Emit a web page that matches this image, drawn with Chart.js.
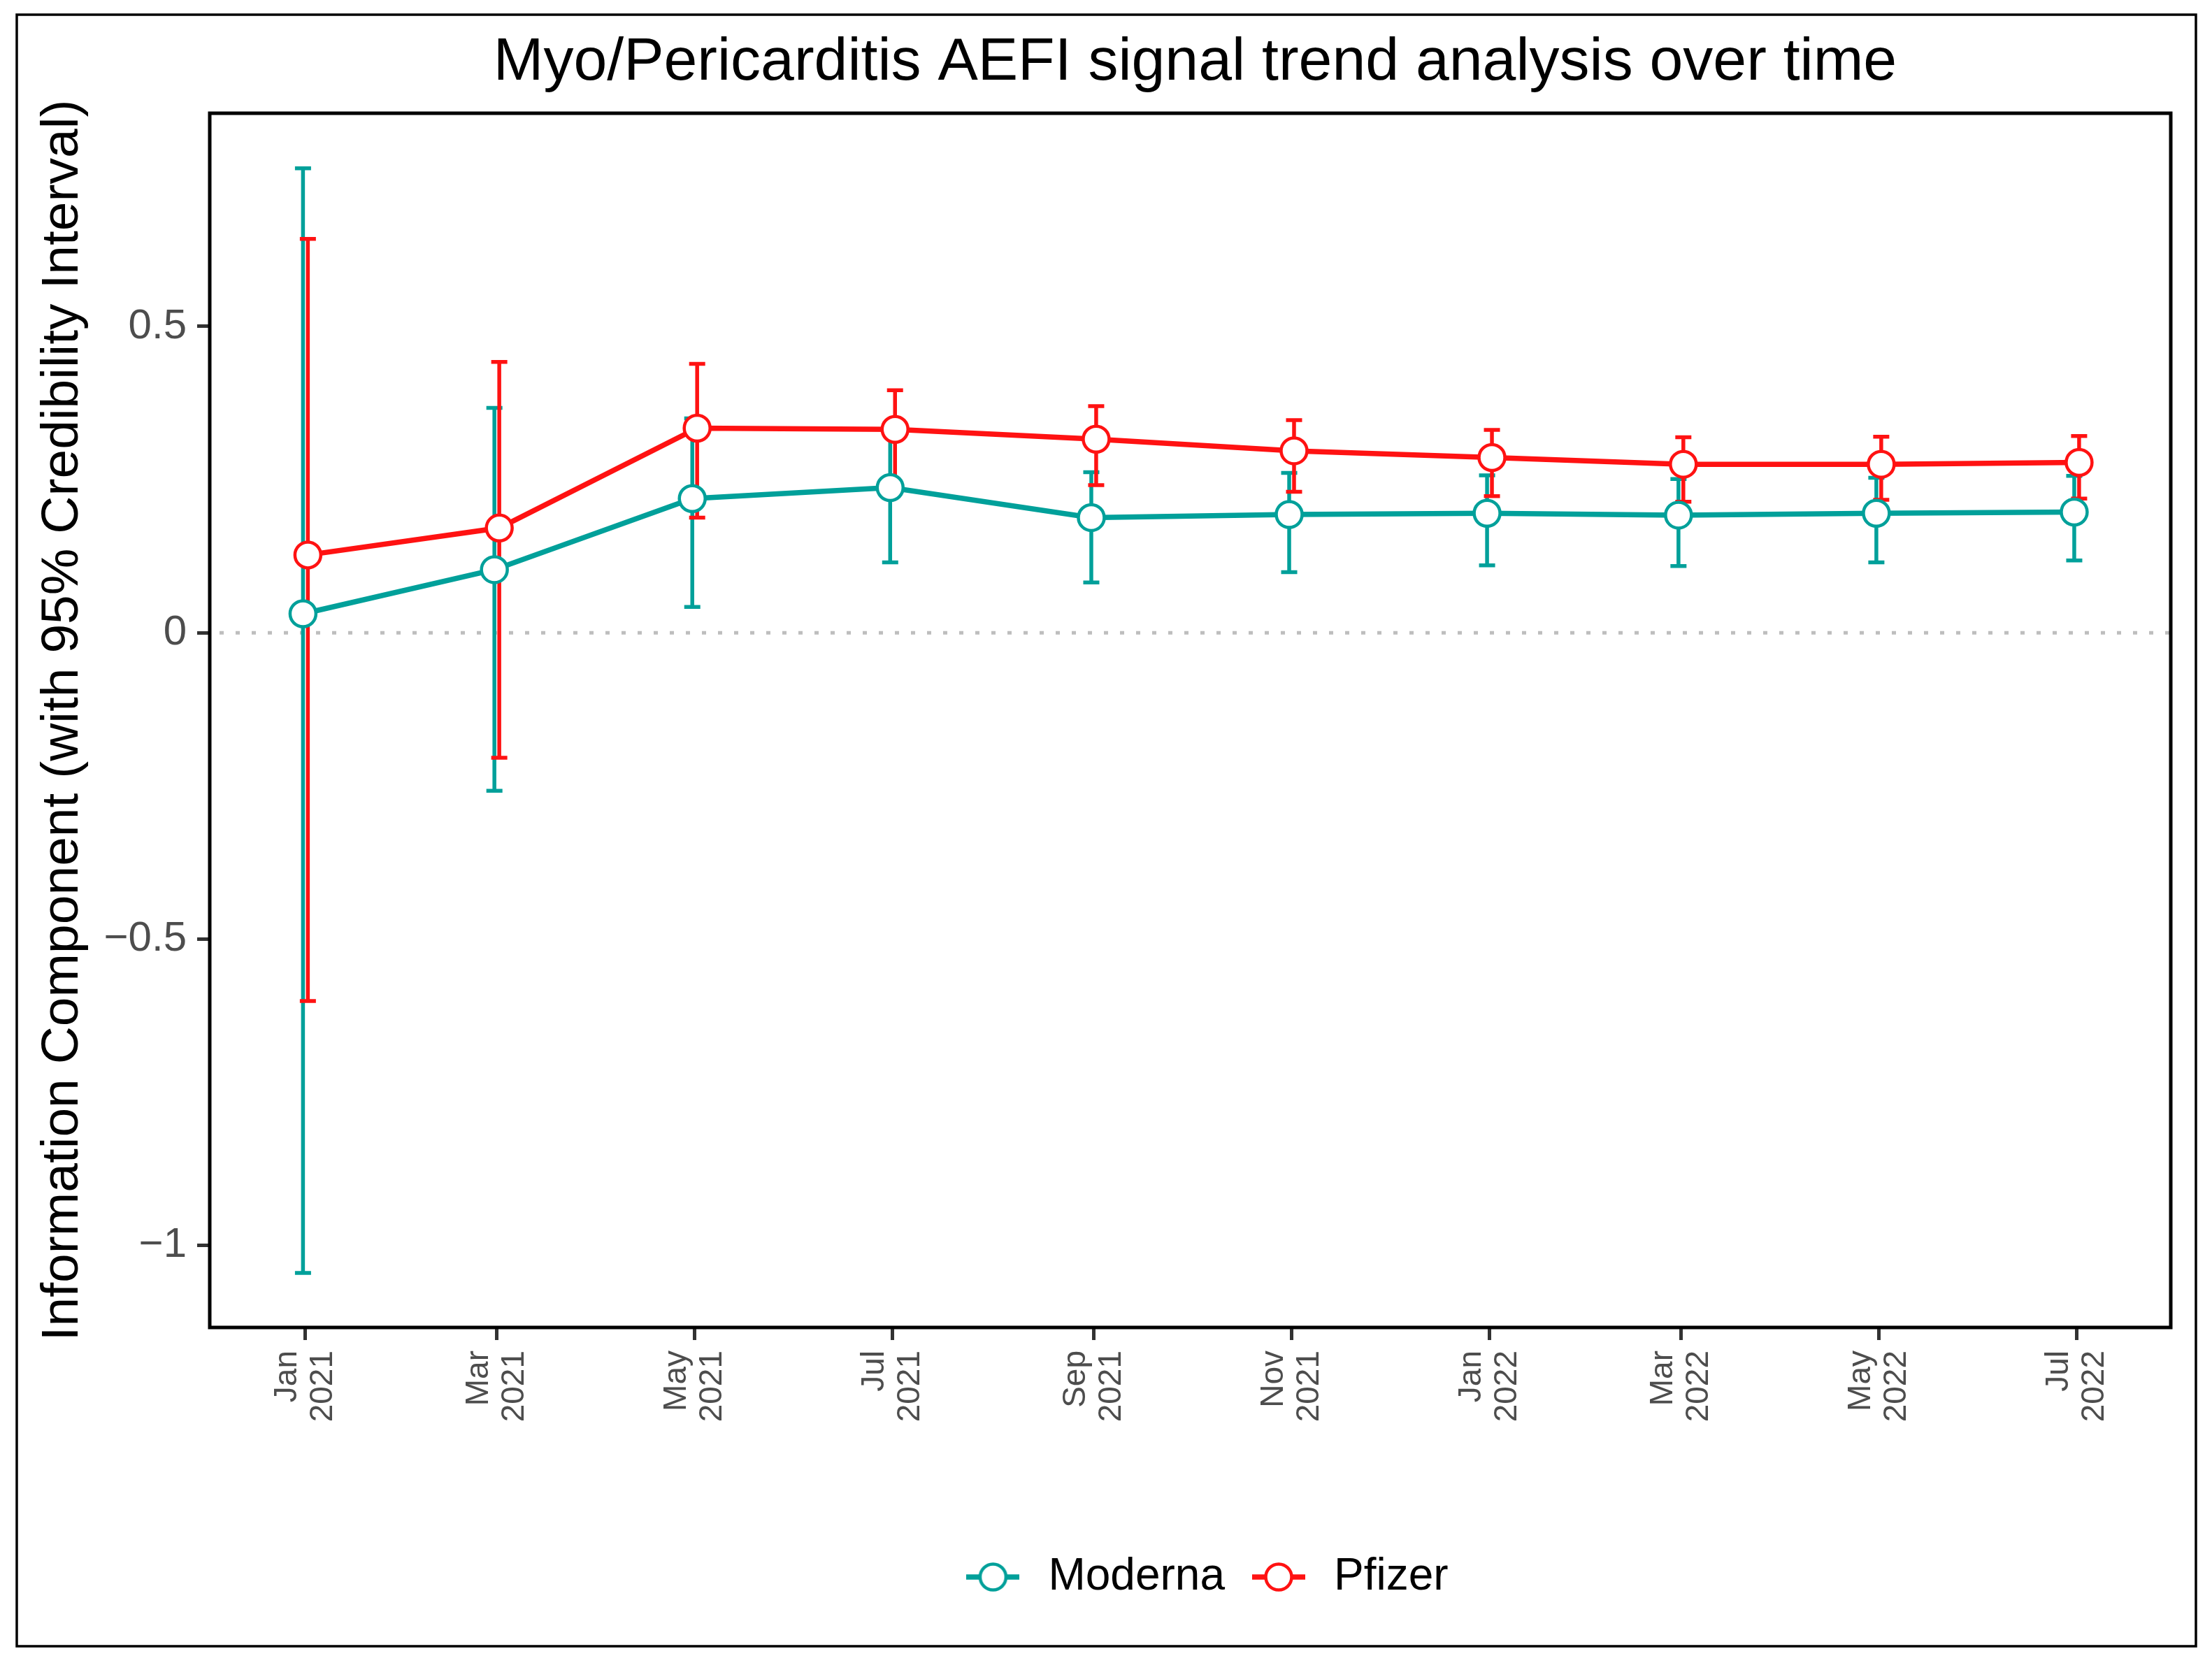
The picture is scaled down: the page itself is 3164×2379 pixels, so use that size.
<!DOCTYPE html>
<html>
<head>
<meta charset="utf-8">
<script src="https://cdn.jsdelivr.net/npm/chart.js@4.4.1/dist/chart.umd.min.js"></script>
<style>
html,body{margin:0;padding:0;background:#fff;}
canvas{display:block;}
</style>
</head>
<body>
<canvas id="c" width="3164" height="2379" style="width:3164px;height:2379px"></canvas>
<script>
// ---------------- DATA ----------------
const dates = ['2021-01-01','2021-03-01','2021-05-01','2021-07-01','2021-09-01',
               '2021-11-01','2022-01-01','2022-03-01','2022-05-01','2022-07-01'];
const seriesNames = ['Moderna', 'Pfizer'];
const modernaIC    = [0.031, 0.103, 0.219, 0.237, 0.188, 0.193, 0.195, 0.192, 0.195, 0.197];
const modernaLower = [-1.045, -0.258, 0.042, 0.115, 0.082, 0.099, 0.110, 0.109, 0.115, 0.118];
const modernaUpper = [0.758, 0.367, 0.350, 0.330, 0.262, 0.261, 0.257, 0.251, 0.253, 0.256];
const pfizerIC     = [0.127, 0.171, 0.334, 0.332, 0.316, 0.297, 0.286, 0.275, 0.275, 0.278];
const pfizerLower  = [-0.601, -0.204, 0.188, 0.240, 0.241, 0.230, 0.223, 0.214, 0.217, 0.219];
const pfizerUpper  = [0.643, 0.442, 0.439, 0.396, 0.370, 0.347, 0.331, 0.319, 0.320, 0.321];
const xTickDates  = ['2021-01-01','2021-03-01','2021-05-01','2021-07-01','2021-09-01',
                     '2021-11-01','2022-01-01','2022-03-01','2022-05-01','2022-07-01'];
const xTickLabels = [['Jan','2021'],['Mar','2021'],['May','2021'],['Jul','2021'],['Sep','2021'],
                     ['Nov','2021'],['Jan','2022'],['Mar','2022'],['May','2022'],['Jul','2022']];
const yTickValues = [-1, -0.5, 0, 0.5];
const titleText = 'Myo/Pericarditis AEFI signal trend analysis over time';
const yTitleText = 'Information Component (with 95% Credibility Interval)';

// ---------------- STYLE ----------------
const TEAL = '#00A09A';
const RED = '#FF1212';
const FONT = '"Liberation Sans", Arial, Helvetica, sans-serif';
const DODGE = 0.75;      // days
const CAP = 11.5;        // px half-width of error bar caps
const LEGEND_SHIFT = 20;
const TITLE_SHIFT = 7;

const DAY0 = Date.UTC(2021, 0, 1);
function dayOf(s) {
  const [y, m, d] = s.split('-').map(Number);
  return (Date.UTC(y, m - 1, d) - DAY0) / 86400000;
}
const tickLabelByDay = {};
xTickDates.forEach((d, i) => { tickLabelByDay[dayOf(d)] = xTickLabels[i]; });

function makeKey(color) {
  const c = document.createElement('canvas');
  c.width = 76; c.height = 46;
  const g = c.getContext('2d');
  g.strokeStyle = color; g.lineWidth = 7.5;
  g.beginPath(); g.moveTo(0, 23); g.lineTo(76, 23); g.stroke();
  g.beginPath(); g.arc(38, 23, 18.5, 0, Math.PI * 2);
  g.fillStyle = '#fff'; g.fill();
  g.lineWidth = 4.5; g.stroke();
  return c;
}
const keys = [makeKey(TEAL), makeKey(RED)];

function mkSeries(name, ic, lo, hi, color, off) {
  return {
    label: name,
    data: dates.map((d, i) => ({x: dayOf(d) + off, y: ic[i]})),
    errLow: lo, errHigh: hi,
    borderColor: color,
    backgroundColor: color,
    borderWidth: 7.5,
    tension: 0,
    fill: false,
    pointRadius: 18.5,
    pointHoverRadius: 18.5,
    pointBorderWidth: 4.5,
    pointBackgroundColor: '#ffffff',
    pointBorderColor: color,
    clip: false
  };
}

const decor = {
  id: 'decor',
  beforeDraw(chart) {
    const ctx = chart.ctx;
    ctx.save(); ctx.fillStyle = '#fff'; ctx.fillRect(0, 0, chart.width, chart.height); ctx.restore();
  },
  afterLayout(chart) {
    if (chart.legend) { chart.legend.left += LEGEND_SHIFT; chart.legend.right += LEGEND_SHIFT; }
    if (chart.titleBlock) { chart.titleBlock.left += TITLE_SHIFT; chart.titleBlock.right += TITLE_SHIFT; }
  },
  beforeDatasetsDraw(chart) {
    const {ctx, chartArea: a, scales: {x, y}} = chart;
    const y0 = y.getPixelForValue(0);
    ctx.save();
    ctx.strokeStyle = '#BEBEBE'; ctx.lineWidth = 5; ctx.setLineDash([6, 17]);
    ctx.beginPath(); ctx.moveTo(a.left + 14, y0); ctx.lineTo(a.right, y0); ctx.stroke();
    ctx.restore();
    chart.data.datasets.forEach((ds) => {
      ctx.save();
      ctx.strokeStyle = ds.borderColor; ctx.lineWidth = 5.5; ctx.lineCap = 'butt';
      ds.data.forEach((p, j) => {
        const px = x.getPixelForValue(p.x);
        const lo = y.getPixelForValue(ds.errLow[j]);
        const hi = y.getPixelForValue(ds.errHigh[j]);
        ctx.beginPath();
        ctx.moveTo(px, lo); ctx.lineTo(px, hi);
        ctx.moveTo(px - CAP, lo); ctx.lineTo(px + CAP, lo);
        ctx.moveTo(px - CAP, hi); ctx.lineTo(px + CAP, hi);
        ctx.stroke();
      });
      ctx.restore();
    });
  },
  afterDraw(chart) {
    const {ctx, chartArea: a} = chart;
    ctx.save();
    ctx.strokeStyle = '#000'; ctx.lineWidth = 5;
    ctx.strokeRect(a.left, a.top, a.right - a.left, a.bottom - a.top);
    ctx.lineWidth = 3.5;
    ctx.strokeRect(24, 21, 3141 - 24, 2355 - 21);
    ctx.restore();
  }
};

Chart.defaults.font.family = FONT;

new Chart(document.getElementById('c'), {
  type: 'line',
  data: {
    datasets: [
      mkSeries(seriesNames[0], modernaIC, modernaLower, modernaUpper, TEAL, -DODGE),
      mkSeries(seriesNames[1], pfizerIC, pfizerLower, pfizerUpper, RED, DODGE)
    ]
  },
  options: {
    responsive: false,
    devicePixelRatio: 1,
    animation: false,
    events: [],
    layout: {padding: {left: 0, right: 59, top: 0, bottom: 81}},
    scales: {
      x: {
        type: 'linear',
        min: -29.5, max: 575,
        afterBuildTicks(s) { s.ticks = xTickDates.map(d => ({value: dayOf(d)})); },
        afterFit(s) { s.height = 295; },
        border: {display: false},
        grid: {display: true, drawOnChartArea: false, drawTicks: true, tickLength: 18, tickWidth: 5, tickColor: '#333333'},
        ticks: {
          autoSkip: false, maxRotation: 90, minRotation: 90,
          padding: 15, labelOffset: -25.5,
          color: '#4D4D4D',
          font: {size: 46, lineHeight: 1.11},
          callback: (v) => tickLabelByDay[v] || ''
        }
      },
      y: {
        type: 'linear',
        min: -1.134, max: 0.848,
        afterBuildTicks(s) { s.ticks = yTickValues.map(v => ({value: v})); },
        afterFit(s) { s.width = 300; },
        border: {display: false},
        grid: {display: true, drawOnChartArea: false, drawTicks: true, tickLength: 18, tickWidth: 5, tickColor: '#333333'},
        ticks: {
          padding: 15,
          color: '#4D4D4D',
          font: {size: 60},
          callback: (v) => (v < 0 ? '\u2212' : '') + String(Math.abs(v))
        },
        title: {
          display: true, text: yTitleText, color: '#000',
          font: {size: 75, lineHeight: 1.2},
          padding: {top: 45, bottom: 0}
        }
      }
    },
    plugins: {
      tooltip: {enabled: false},
      title: {
        display: true, text: titleText, color: '#000', fullSize: false,
        font: {size: 86, weight: 'normal', lineHeight: 1.2},
        padding: {top: 38.4, bottom: 20.4}
      },
      legend: {
        display: true, position: 'bottom', fullSize: false,
        labels: {
          usePointStyle: true, pointStyleWidth: 94, boxHeight: 44,
          padding: 30, color: '#000', font: {size: 64},
          generateLabels: (chart) => chart.data.datasets.map((ds, i) => ({
            text: ds.label, pointStyle: keys[i], fillStyle: ds.borderColor,
            strokeStyle: ds.borderColor, lineWidth: 0, hidden: false, datasetIndex: i,
            fontColor: '#000'
          }))
        }
      }
    }
  },
  plugins: [decor]
});
</script>
</body>
</html>
